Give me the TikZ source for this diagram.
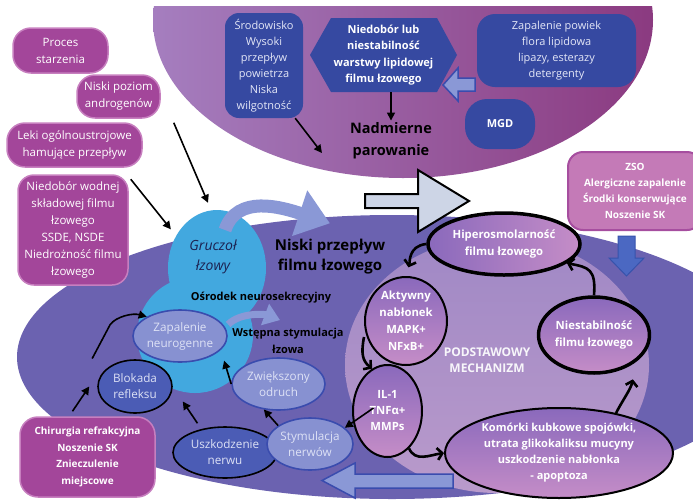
\documentclass[tikz,border=0pt]{standalone}
\usepackage{fontspec}
\setmainfont{Open Sans}
\usepackage{tikz}
\usetikzlibrary{arrows.meta, positioning, shapes.geometric}

\definecolor{causemag}{HTML}{A3469A}
\definecolor{causeedge}{HTML}{C77FBF}
\definecolor{topblue}{HTML}{3649A1}
\definecolor{toptext}{HTML}{E4E7F7}
\definecolor{toplight}{HTML}{A57EBF}
\definecolor{topdark}{HTML}{8B3A80}
\definecolor{indigo}{HTML}{6B62B0}
\definecolor{lilac}{HTML}{A088C5}
\definecolor{lilacpink}{HTML}{B99ACB}
\definecolor{glandcyan}{HTML}{42A8DF}
\definecolor{glandtext}{HTML}{1C2150}
\definecolor{nervefill}{HTML}{8791D1}
\definecolor{nerveedge}{HTML}{3A4CAE}
\definecolor{nervetext}{HTML}{DDE1F5}
\definecolor{nervedark}{HTML}{4B5CB5}
\definecolor{cycletop}{HTML}{8A69BC}
\definecolor{cyclebot}{HTML}{C58DC7}
\definecolor{flowblue}{HTML}{8A98D6}
\definecolor{zsopink}{HTML}{C47AB7}
\definecolor{zsoedge}{HTML}{A64E9F}
\definecolor{dropblue}{HTML}{4B68C2}
\definecolor{dropedge}{HTML}{3753AC}
\definecolor{bigarrowfill}{HTML}{CDD5E6}

\begin{document}
\begin{tikzpicture}[x=1pt, y=-1pt,
    cause/.style={rectangle, draw=causeedge, line width=1.5pt, fill=causemag,
                  rounded corners=16pt, text=white, align=center, inner sep=0pt,
                  font=\fontsize{11.5}{17}\selectfont},
    topbox/.style={rectangle, fill=topblue, rounded corners=14pt, text=toptext,
                   align=center, inner sep=0pt, font=\fontsize{11}{16}\selectfont},
    nerve/.style={ellipse, draw=nerveedge, line width=1.6pt, fill=nervefill,
                  text=nervetext, align=center, inner sep=0pt,
                  font=\fontsize{11.7}{16}\selectfont},
    damage/.style={ellipse, draw=black, line width=1.6pt, fill=nervedark,
                   text=nervetext, align=center, inner sep=0pt,
                   font=\fontsize{11.7}{16}\selectfont},
    mech/.style={ellipse, draw=black, line width=2pt, top color=cycletop,
                 bottom color=cyclebot, text=white, align=center, inner sep=0pt,
                 font=\bfseries\fontsize{11.3}{17}\selectfont},
    headline/.style={align=center, inner sep=2pt, font=\bfseries\fontsize{14.5}{22}\selectfont},
    smallhead/.style={align=center, inner sep=2pt, font=\bfseries\fontsize{11}{17}\selectfont},
    arr/.style={-{Triangle[length=8pt,width=8pt]}, line width=1.6pt},
    cyc/.style={-{Straight Barb[length=5pt,width=12pt]}, line width=2.6pt},
    flow/.style={draw=flowblue, line width=13pt, -{Triangle[length=32pt,width=46pt]}},
    smallflow/.style={draw=flowblue, line width=7pt, -{Triangle[length=16pt,width=22pt]}},
    hollow/.style={draw=nerveedge, line width=1.5pt, fill=flowblue},
]
\useasboundingbox (0,0) rectangle (693,501);
\clip (0,0) rectangle (693,501);

\begin{scope}
\clip (0,6) rectangle (693,200);
\shade[left color=toplight, right color=topdark] (403,20) ellipse [x radius=250, y radius=158];
\end{scope}
\fill[indigo] (392,357) ellipse [x radius=375, y radius=142];
\shade[top color=lilac, bottom color=lilacpink] (497,365) ellipse [x radius=152, y radius=128];

\node[ellipse, fill=glandcyan, minimum width=98pt, minimum height=116pt, inner sep=0pt] (gland) at (217,268) {};
\fill[glandcyan] (195,335) circle [radius=58];

\node[topbox, minimum width=78pt, minimum height=105pt] (srod) at (264,65.5)
    {Środowisko\\Wysoki\\przepływ\\powietrza\\Niska\\wilgotność};
\fill[topblue] (310,55) -- (331,18) -- (437,18) -- (457,55) -- (437,92) -- (331,92) -- cycle;
\node[align=center, text=white, minimum height=74pt, inner sep=0pt,
      font=\bfseries\fontsize{11}{16.5}\selectfont] (lipid) at (383.5,55)
    {Niedobór lub\\niestabilność\\warstwy lipidowej\\filmu łzowego};
\node[topbox, rounded corners=18pt, minimum width=159pt, minimum height=73pt] (powiek) at (556.5,50.5)
    {Zapalenie powiek\\flora lipidowa\\lipazy, esterazy\\detergenty};
\node[topbox, rounded corners=22pt, minimum width=70pt, minimum height=50pt, text=white,
      font=\bfseries\fontsize{11}{16}\selectfont] (mgd) at (500,124) {MGD};
\node[headline] (nadm) at (391,141) {Nadmierne\\parowanie};
\filldraw[hollow] (475,78) -- (458,78) -- (458,68) -- (443,85) -- (458,101) -- (458,91) -- (475,91) -- cycle;

\node[cause, rounded corners=18pt, minimum width=95pt, minimum height=45pt] (proc) at (60.5,50.5) {Proces\\starzenia};
\node[cause, rounded corners=18pt, minimum width=83pt, minimum height=43pt] (andro) at (118.5,96.5) {Niski poziom\\androgenów};
\node[cause, rounded corners=18pt, minimum width=135pt, minimum height=44pt] (leki) at (74.5,145) {Leki ogólnoustrojowe\\hamujące przepływ};
\node[cause, minimum width=110pt, minimum height=110pt] (niedob) at (73,230)
    {Niedobór wodnej\\składowej filmu\\łzowego\\SSDE, NSDE\\Niedrożność filmu\\łzowego};

\node[align=center, inner sep=2pt, font=\bfseries\fontsize{15}{20}\selectfont] (niski) at (330,257) {Niski przepływ\\filmu łzowego};
\node[smallhead] (osrod) at (261,298) {Ośrodek neurosekrecyjny};
\node[smallhead] (wstep) at (288,341) {Wstępna stymulacja\\łzowa};

\draw[flow] ([shift={(8pt,38pt)}]gland.center) .. controls +(12,-36) and +(-48,-16) .. ([yshift=14pt]niski.north);
\node[align=center, text=glandtext, font=\itshape\fontsize{14}{20}\selectfont] (glandname) at (213,257) {Gruczoł\\łzowy};

\filldraw[fill=bigarrowfill, draw=black, line width=2pt]
    (365,194) -- (418,194) -- (418,170) -- (469,201) -- (418,232) -- (418,208) -- (365,208) -- cycle;
\node[rectangle, draw=zsoedge, line width=2pt, fill=zsopink, rounded corners=15pt,
      minimum width=134pt, minimum height=78pt, text=white, align=center, inner sep=0pt,
      font=\bfseries\fontsize{10}{16}\selectfont] (zso) at (635,191)
    {ZSO\\Alergiczne zapalenie\\Środki konserwujące\\Noszenie SK};
\filldraw[fill=dropblue, draw=dropedge, line width=1pt]
    (618,236) -- (635,236) -- (635,258) -- (644,258) -- (626.5,276) -- (609,258) -- (618,258) -- cycle;

\node[nerve, minimum width=94pt, minimum height=52pt] (zap) at (180,336) {Zapalenie\\neurogenne};
\node[damage, minimum width=74pt, minimum height=53pt] (blok) at (135,386.5) {Blokada\\refleksu};
\node[nerve, minimum width=93pt, minimum height=52pt] (zwiek) at (278.5,384) {Zwiększony\\odruch};
\node[damage, minimum width=104pt, minimum height=51pt] (uszk) at (225,452.5) {Uszkodzenie\\nerwu};
\node[nerve, minimum width=86pt, minimum height=52pt] (stym) at (310,444) {Stymulacja\\nerwów};
\node[cause, rounded corners=18pt, minimum width=135pt, minimum height=80pt,
      font=\bfseries\fontsize{10}{16.5}\selectfont] (chir) at (87.5,457)
    {Chirurgia refrakcyjna\\Noszenie SK\\Znieczulenie\\miejscowe};
\draw[smallflow] ([xshift=5pt]zap.15) .. controls +(12,-12) and +(-16,-6) .. ([shift={(-8pt,6pt)}]wstep.north);

\node[align=center, text=white!92!lilac, font=\bfseries\fontsize{12}{16}\selectfont] (podst) at (487,360) {PODSTAWOWY\\MECHANIZM};
\filldraw[hollow] (453,474) -- (355,474) -- (355,463) -- (322,480.5) -- (355,498) -- (355,488) -- (453,488) -- cycle;

\node[mech, left color=cycletop, right color=cyclebot, line width=3.5pt,
      minimum width=152pt, minimum height=62pt] (hip) at (504,244) {Hiperosmolarność\\filmu łzowego};
\node[mech, minimum width=82pt, minimum height=88pt] (akt) at (406,321) {Aktywny\\nabłonek\\MAPK+\\NFxB+};
\node[mech, minimum width=69pt, minimum height=92pt, font=\bfseries\fontsize{11.3}{16}\selectfont] (il) at (387.5,411) {IL-1\\TNFα+\\MMPs};
\node[mech, line width=3.5pt, minimum width=106pt, minimum height=76pt] (nies) at (594,335) {Niestabilność\\filmu łzowego};
\node[mech, minimum width=228pt, minimum height=90pt, font=\bfseries\fontsize{11}{16}\selectfont] (kom) at (559,453)
    {Komórki kubkowe spojówki,\\utrata glikokaliksu mucyny\\uszkodzenie nabłonka\\- apoptoza};

\draw[arr] ([shift={(13pt,-4pt)}]andro.south east) -- ([shift={(-9pt,7pt)}]gland.north);
\draw[arr] ([shift={(2pt,-5pt)}]niedob.north east) -- ([shift={(-6pt,5pt)}]gland.140);
\draw[arr] (lipid.south -| nadm.north) -- (nadm.north);
\draw[arr] ([xshift=-8pt]srod.south east) -- ([shift={(-26pt,-12pt)}]nadm.west);

\draw[cyc, shorten >=9pt] (hip.west) .. controls +(-18,2) and +(4,-14) .. (akt.north);
\draw[cyc] ([yshift=-16pt]akt.west) .. controls +(-3,16) and +(-10,-8) .. (il.110);
\draw[arr] ([shift={(-14pt,3pt)}]il.center) -- (stym.25);
\draw[cyc] (il.-60) .. controls +(6,14) and +(-14,2) .. (kom.west);
\draw[cyc] (kom.35) .. controls +(6,-12) and +(-2,10) .. ([shift={(10pt,-10pt)}]nies.-50);
\draw[cyc] (nies.north) .. controls +(2,-26) and +(22,4) .. (hip.-17);

\draw[arr] ([shift={(-15pt,5pt)}]chir.north) -- ([xshift=-8pt]blok.west);
\draw[arr] ([shift={(-5pt,28pt)}]blok.west) -- ++(18,-34) .. controls +(6,-8) and +(-14,-4) .. (zap.150);
\draw[arr] ([shift={(-13pt,4pt)}]uszk.120) -- ([shift={(10pt,-15pt)}]blok.east);
\draw[arr] (zwiek.west) -- ([shift={(4pt,-10pt)}]zap.-20);
\draw[arr] (stym.150) -- (zwiek.-120);
\end{tikzpicture}
\end{document}
